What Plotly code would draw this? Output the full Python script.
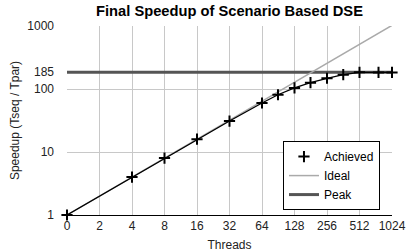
import plotly.graph_objects as go

threads = [1, 4, 8, 16, 32, 64, 90, 128, 180, 256, 362, 512, 768, 1024]
achieved = [1, 4, 8, 16, 31, 60, 81, 104, 126, 148, 169, 184, 183, 183]
ideal_x = [1, 1024]
ideal_y = [1, 1024]
peak_value = 185
x_tickvals = [1, 2, 4, 8, 16, 32, 64, 128, 256, 512, 1024]
x_ticktext = ["0", "2", "4", "8", "16", "32", "64", "128", "256", "512", "1024"]
y_tickvals = [1, 10, 100, 185, 1000]
y_ticktext = ["1", "10", "100", "185", "1000"]

FONT = "Liberation Sans, Arial, sans-serif"

fig = go.Figure()
fig.add_trace(go.Scatter(
    x=[threads[0], threads[-1]], y=[peak_value, peak_value], mode="lines",
    name="Peak", line=dict(color="#555555", width=3), showlegend=False))
fig.add_trace(go.Scatter(
    x=ideal_x, y=ideal_y, mode="lines", name="Ideal",
    line=dict(color="#aaaaaa", width=1.5), showlegend=False))
fig.add_trace(go.Scatter(
    x=threads, y=achieved, mode="lines+markers", name="Achieved",
    line=dict(color="black", width=1.3),
    marker=dict(symbol="cross-thin", size=8, line=dict(color="black", width=2)),
    cliponaxis=False, showlegend=False))
# legend entries (order)
fig.add_trace(go.Scatter(x=[None], y=[None], mode="markers", name="Achieved",
                         marker=dict(symbol="cross-thin", size=8, line=dict(color="black", width=2))))
fig.add_trace(go.Scatter(x=[None], y=[None], mode="lines", name="Ideal",
                         line=dict(color="#aaaaaa", width=1.5)))
fig.add_trace(go.Scatter(x=[None], y=[None], mode="lines", name="Peak",
                         line=dict(color="#555555", width=3)))

fig.update_layout(
    width=416, height=252,
    margin=dict(l=67, r=24, t=26, b=37),
    paper_bgcolor="white", plot_bgcolor="white",
    font=dict(family=FONT, size=12, color="#222222"),
    title=dict(text="<b>Final Speedup of Scenario Based DSE</b>", x=0.5, xref="paper",
               xanchor="center", y=0.958, yanchor="middle",
               font=dict(size=14.7, color="black")),
    legend=dict(x=0.963, y=0.026, xanchor="right", yanchor="bottom",
                bordercolor="black", borderwidth=1, bgcolor="white",
                font=dict(size=12, color="black"), tracegroupgap=0,
                itemwidth=30),
    showlegend=True,
)
fig.update_xaxes(
    type="log", range=[0, 3.0103], tickmode="array", tickvals=x_tickvals, ticktext=x_ticktext,
    showgrid=True, gridcolor="#c8c8c8", gridwidth=1,
    showline=True, linecolor="black", linewidth=1, ticks="",
    title=dict(text="Threads", font=dict(size=12)),
    zeroline=False, tickfont=dict(size=12), automargin=False,
)
fig.update_yaxes(
    type="log", range=[0, 3], tickmode="array", tickvals=y_tickvals, ticktext=y_ticktext,
    showgrid=True, gridcolor="#c8c8c8", gridwidth=1,
    showline=False, ticks="", ticklabelstandoff=12,
    title=dict(text="Speedup (Tseq / Tpar)", font=dict(size=12), standoff=5),
    zeroline=False, tickfont=dict(size=12), automargin=False,
)

fig.write_html("out.html", config={"displayModeBar": False},
               post_script="document.body.style.margin='0';")
